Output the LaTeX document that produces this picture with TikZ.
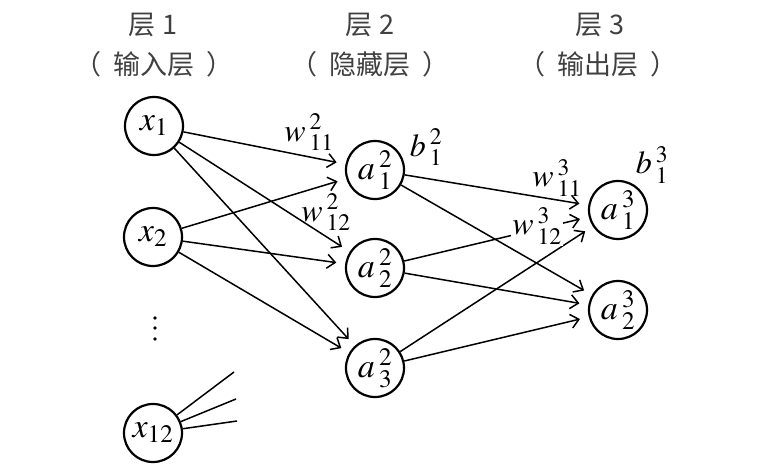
\documentclass[tikz,border=0pt]{standalone}
\usepackage{mathptmx}
\usepackage{fontspec}
\setmainfont{Liberation Serif}
\newfontfamily\cjk{Noto Sans CJK SC}
\usetikzlibrary{arrows.meta}
\newcommand{\nv}[3]{#1^{\mkern3mu #2}_{\mkern3mu #3}}

\begin{document}
\begin{tikzpicture}[x=1pt,y=-1pt]
	\tikzstyle{neuron}=[draw,circle,line width=2.2pt,minimum size=58pt,inner sep=0pt,
		font=\fontsize{34}{34}\selectfont]
	\tikzstyle{title}=[font=\cjk\fontsize{27}{30}\selectfont,text=black!75]
	\tikzstyle{link}=[line width=1.5pt,shorten >=9pt,
		-{Straight Barb[length=8pt,width=14pt]}]
	\tikzstyle{stub}=[line width=1.5pt]
	\tikzstyle{dot}=[circle,fill,inner sep=1.4pt]
	\tikzstyle{wlabel}=[font=\fontsize{32}{32}\selectfont,inner sep=1pt]
	\useasboundingbox (0,0) rectangle (761,476);
	% titles
	\node[title] (t1) at (153,25) {层 1};
	\node[title] (s1) at (154,64) {（\hspace{0.45em}输入层\hspace{0.45em}）};
	\node[title] (t2) at (370,25) {层 2};
	\node[title] (s2) at (370,64) {（\hspace{0.45em}隐藏层\hspace{0.45em}）};
	\node[title] (t3) at (600,25) {层 3};
	\node[title] (s3) at (598,64) {（\hspace{0.45em}输出层\hspace{0.45em}）};
	% layer 1
	\node[neuron] (x1) at (154,126) {$x_1$};
	\node[neuron] (x2) at (153,237) {$x_2$};
	\node[dot] (d1) at (155,318) {};
	\node[dot] (d2) at (155,328) {};
	\node[dot] (d3) at (155,339) {};
	\node[neuron] (x12) at (153,433) {$x_{12}$};
	% layer 2
	\node[neuron] (h1) at (375,170) {$\nv{a}{2}{1}$};
	\node[neuron] (h2) at (375,268) {$\nv{a}{2}{2}$};
	\node[neuron] (h3) at (375,368) {$\nv{a}{2}{3}$};
	% layer 3
	\node[neuron] (o1) at (618,210) {$\nv{a}{3}{1}$};
	\node[neuron] (o2) at (618,310) {$\nv{a}{3}{2}$};
	% loose ends of x12
	\coordinate (e1) at (234,372);
	\coordinate (e2) at (236,399);
	\coordinate (e3) at (237,421);
	% connections
	\draw[link] (x1) -- (h1);
	\draw[link] (x1) -- (h2);
	\draw[link] (x1) -- (h3);
	\draw[link] (x2) -- (h1);
	\draw[link] (x2) -- (h2);
	\draw[link] (x2) -- (h3);
	\draw[stub] (x12) -- (e1);
	\draw[stub] (x12) -- (e2);
	\draw[stub] (x12) -- (e3);
	\draw[link] (h1) -- (o1);
	\draw[link] (h1) -- (o2);
	\draw[link] (h2) -- (o1);
	\draw[link] (h2) -- (o2);
	\draw[link] (h3) -- (o1);
	\draw[link] (h3) -- (o2);
	% weights and biases
	\node[wlabel] (w211) at (309,132) {$\nv{w}{2}{11}$};
	\node[wlabel] (w212) at (326,212) {$\nv{w}{2}{12}$};
	\node[wlabel] (b21) at (426,147) {$\nv{b}{2}{1}$};
	\node[wlabel] (w311) at (557,178) {$\nv{w}{3}{11}$};
	\node[wlabel,fill=white] (w312) at (537,226) {$\nv{w}{3}{12}$};
	\node[wlabel] (b31) at (652,165) {$\nv{b}{3}{1}$};
\end{tikzpicture}
\end{document}
